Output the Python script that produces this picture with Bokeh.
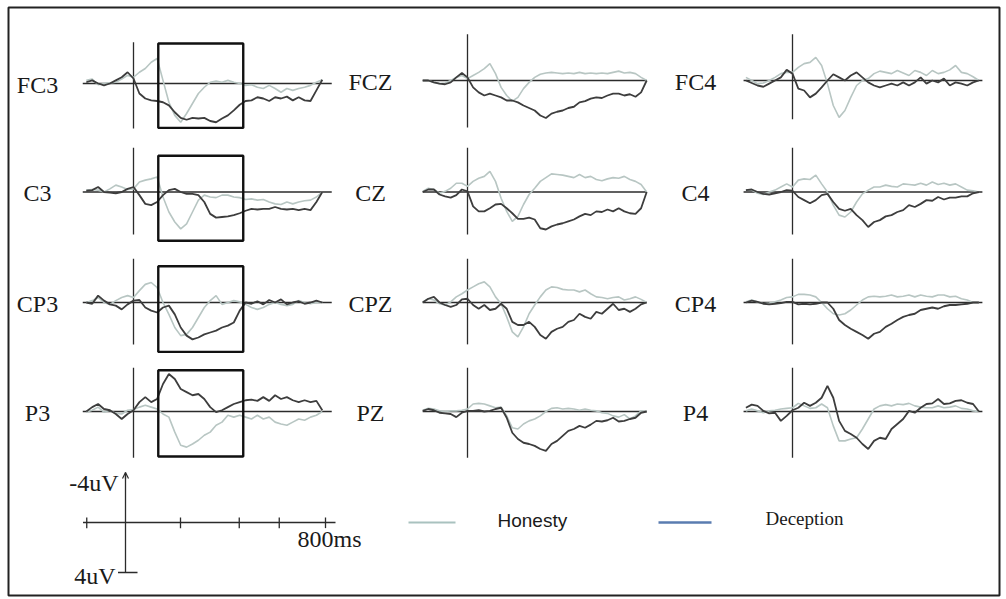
from bokeh.plotting import figure
from bokeh.models import Range1d, Arrow, OpenHead
from bokeh.embed import file_html
from bokeh.resources import INLINE
from bokeh.core.properties import value

# ---------------- data (uV, negative plotted upward) ----------------
times = list(range(-200, 801, 25))  # ms

labels = [["FC3", "FCZ", "FC4"],
          ["C3", "CZ", "C4"],
          ["CP3", "CPZ", "CP4"],
          ["P3", "PZ", "P4"]]

FC3_dec = [-0.1, -0.25, 0.0, 0.15, 0.0, -0.25, -0.5, -0.9,
           -0.4, 0.8, 1.2, 1.35, 1.4, 1.5, 1.75, 2.3, 2.75, 2.9, 2.75, 2.8, 2.75, 3.0, 3.1, 2.8, 2.55,
           2.15, 1.7, 1.4, 1.35, 1.1, 1.2, 1.4, 1.1, 1.2, 1.05, 1.35, 1.1, 1.35, 1.4, 0.55, -0.3]
FC3_hon = [-0.25, -0.35, 0.1, 0.0, -0.05, -0.1, -0.35, -0.65,
           -0.5, -0.9, -1.2, -1.7, -2.0, -0.25, 1.5, 2.55, 3.1, 2.4, 1.6, 0.8, 0.3, -0.1, -0.2, -0.1, -0.25,
           -0.1, 0.0, 0.15, 0.1, 0.3, 0.4, 0.15, 0.4, 0.7, 0.4, 0.55, 0.4, 0.3, 0.15, -0.1, -0.3]
FCZ_dec = [0, 0, 0.15, 0.25, 0.3, 0.15, -0.25, -0.6,
           -0.25, 0.55, 0.95, 1.2, 1.05, 1.2, 1.35, 1.6, 1.6, 1.75, 2.0, 2.2, 2.4, 2.8, 3.0, 2.65, 2.5,
           2.4, 2.2, 2.1, 1.75, 1.65, 1.45, 1.35, 1.4, 1.2, 1.05, 1.05, 1.2, 1.1, 1.3, 0.95, 0]
FCZ_hon = [0, 0, 0.15, 0.25, 0.2, 0, -0.25, -0.4,
           -0.15, -0.4, -0.65, -0.95, -1.35, -0.55, 0.55, 1.2, 1.65, 1.35, 0.65, 0.15, -0.25, -0.5, -0.6, -0.65, -0.6,
           -0.55, -0.6, -0.55, -0.65, -0.55, -0.6, -0.55, -0.6, -0.55, -0.65, -0.75, -0.6, -0.65, -0.55, -0.25, 0]
FC4_dec = [0, 0.2, 0.4, 0.5, 0.25, 0, -0.25, -0.85,
           -0.55, 0.65, 0.8, 1.35, 1.05, 0.55, 0, -0.5, -0.25, 0, -0.4, -0.65, -0.25, 0.15, 0.4, 0.55, 0.4,
           0.25, 0.4, 0.15, 0.4, 0.15, -0.25, 0.25, 0, 0.15, -0.15, 0.4, 0.15, 0.25, 0.4, 0.15, 0]
FC4_hon = [-0.25, 0, 0.25, 0.2, 0, -0.25, -0.55, -0.65,
           -0.65, -1.05, -1.35, -1.45, -1.85, -1.2, 0.25, 2.0, 2.95, 2.4, 1.35, 0.4, 0, -0.15, -0.55, -0.75, -0.65,
           -0.55, -0.8, -0.6, -0.4, -0.8, -0.65, -0.4, -0.8, -0.55, -0.65, -0.85, -1.2, -0.65, -0.55, -0.3, 0]

C3_dec = [-0.1, -0.15, -0.4, 0, 0.05, 0.1, 0, -0.25,
          -0.4, 0.25, 0.95, 1.05, 0.8, 0.25, -0.15, -0.25, 0, 0.15, 0.15, 0.25, 0.8, 1.75, 2.05, 2.0, 1.95,
          1.85, 1.7, 1.5, 1.35, 1.4, 1.35, 1.35, 1.2, 1.35, 1.4, 1.35, 1.45, 1.35, 1.45, 0.8, 0]
C3_hon = [-0.15, -0.2, -0.15, 0, -0.25, -0.55, -0.4, -0.2,
          -0.25, -0.8, -0.95, -1.05, -1.2, 0.4, 1.6, 2.4, 2.95, 2.55, 1.6, 0.65, 0.25, 0.4, 0.45, 0.25, 0.25,
          0.4, 0.45, 0.6, 0.55, 0.65, 0.6, 0.8, 0.95, 1.0, 0.8, 0.95, 0.8, 0.7, 0.65, 0.4, 0]
CZ_dec = [0, -0.2, -0.2, 0.2, 0.35, 0.45, 0.25, -0.2,
          -0.05, 1.15, 1.55, 1.55, 1.3, 1.0, 0.95, 1.3, 1.7, 2.15, 2.15, 2.05, 2.2, 2.9, 3.0, 2.75, 2.6,
          2.5, 2.35, 2.2, 1.95, 1.75, 1.85, 1.55, 1.6, 1.4, 1.55, 1.3, 1.55, 1.7, 1.75, 1.3, 0]
CZ_hon = [-0.05, -0.3, -0.2, 0.1, -0.05, -0.3, -0.7, -0.7,
          -0.45, -0.85, -1.1, -1.25, -1.65, -0.85, 0.5, 1.55, 2.35, 1.95, 1.0, 0.2, -0.3, -0.85, -1.15, -1.45, -1.4,
          -1.35, -1.25, -1.15, -1.4, -1.15, -1.25, -1.0, -0.9, -1.05, -1.15, -1.1, -1.25, -1.0, -0.85, -0.6, 0]
C4_dec = [-0.15, -0.2, 0, 0.15, 0.2, 0.1, 0, -0.15,
          -0.1, 0.4, 0.65, 0.9, 0.65, 0.25, 0.15, 0.8, 1.35, 1.5, 1.35, 1.85, 2.25, 2.8, 2.4, 2.25, 1.95,
          1.85, 1.6, 1.45, 1.05, 1.2, 0.95, 0.65, 0.7, 0.4, 0.6, 0.45, 0.45, 0.35, 0.35, 0.1, 0]
C4_hon = [-0.15, -0.15, 0.1, 0.2, 0, -0.15, -0.4, -0.65,
          -0.4, -0.95, -1.05, -1.0, -1.35, -0.65, 0, 1.05, 1.85, 2.0, 1.6, 0.8, 0.15, -0.15, -0.4, -0.4, -0.55,
          -0.45, -0.4, -0.65, -0.6, -0.55, -0.7, -0.55, -0.8, -0.6, -0.7, -0.55, -0.65, -0.4, -0.15, -0.1, 0]

CP3_dec = [0, 0.1, -0.55, -0.15, 0.15, 0.25, 0.55, 0.15,
           -0.15, -0.2, 0.4, 0.65, 0.8, 0.4, 0.25, 0.95, 2.0, 2.65, 2.95, 2.8, 2.55, 2.4, 2.25, 2.0, 1.85,
           1.6, 0.65, 0, 0.1, -0.1, 0.15, -0.2, 0, -0.25, 0.15, 0, -0.1, 0.1, 0, -0.15, 0]
CP3_hon = [0, -0.15, -0.4, 0, 0.15, -0.15, -0.4, -0.55,
           -0.4, -0.95, -1.45, -1.6, -1.2, 0, 0.95, 2.0, 2.65, 2.55, 2.0, 1.2, 0.4, -0.15, -0.55, 0.15, 0,
           -0.15, -0.05, 0.15, 0.4, 0.55, 0.4, 0.15, 0, 0.15, 0.25, 0.15, -0.15, 0, 0.1, 0, 0]
CPZ_dec = [0, -0.3, -0.45, 0, 0.2, 0.35, 0.2, -0.25,
           -0.3, 0.2, 0.5, 0.2, 0.6, 0.5, 0.1, 0.5, 1.55, 1.8, 1.8, 1.55, 1.95, 2.6, 2.9, 2.35, 2.1,
           1.95, 1.55, 1.4, 0.9, 1.15, 1.3, 0.75, 0.9, 0.5, 0.1, 0.6, 0.5, 0.75, 0.5, 0.15, 0]
CPZ_hon = [-0.05, -0.3, -0.2, 0.1, 0.2, -0.05, -0.45, -0.7,
           -1.0, -1.25, -1.5, -1.65, -1.25, -0.45, 0.1, 1.15, 2.35, 2.75, 1.95, 0.9, 0.2, -0.45, -1.0, -1.25, -1.2,
           -1.05, -1.0, -1.0, -0.85, -1.0, -0.7, -0.45, -0.4, -0.3, -0.4, -0.45, -0.2, -0.3, -0.45, -0.25, 0]
CP4_dec = [0, -0.15, -0.05, 0.1, 0.15, 0.1, 0.05, -0.05,
           -0.05, 0.15, 0.1, 0.15, 0.1, 0, 0, 0.5, 1.4, 1.8, 2.1, 2.35, 2.6, 2.9, 2.5, 2.35, 1.95,
           1.7, 1.4, 1.15, 1.0, 0.9, 0.6, 0.5, 0.4, 0.5, 0.3, 0.2, 0.2, 0.15, 0.1, 0, 0]
CP4_hon = [-0.05, -0.2, -0.05, 0.1, 0.05, -0.05, -0.2, -0.4,
           -0.45, -0.65, -0.65, -0.6, -0.45, 0, 0.5, 0.9, 1.0, 0.9, 0.6, 0.2, -0.2, -0.45, -0.5, -0.45, -0.5,
           -0.6, -0.45, -0.5, -0.6, -0.45, -0.6, -0.5, -0.45, -0.6, -0.6, -0.45, -0.5, -0.3, -0.2, 0, 0]

P3_dec = [0, -0.35, -0.6, -0.2, -0.1, 0.2, 0.6, 0.2,
          -0.1, -0.75, -1.15, -0.75, -1.0, -2.2, -3.0, -2.6, -1.8, -1.55, -1.3, -1.4, -1.0, -0.35, 0.05, -0.1, -0.35,
          -0.6, -0.75, -0.9, -0.95, -0.85, -1.15, -0.85, -1.3, -1.0, -1.15, -0.9, -0.75, -0.9, -0.75, -0.85, -0.1]
P3_hon = [0.05, -0.1, -0.35, 0.05, -0.1, 0.15, 0.2, -0.1,
          -0.15, -0.35, -0.5, -0.35, -0.2, 0.2, 0.45, 1.65, 2.7, 2.85, 2.6, 2.3, 1.9, 1.65, 1.1, 0.85, 0.3,
          0.45, 0.3, 0.45, 0.6, 0.3, 0.6, 0.45, 0.85, 1.0, 1.1, 0.85, 0.6, 0.7, 0.45, 0.3, 0]
PZ_dec = [-0.05, -0.2, -0.1, 0.1, 0.15, 0.2, 0.45, 0.1,
          -0.05, -0.05, -0.1, 0, -0.05, -0.2, -0.3, 0.5, 1.7, 2.2, 2.5, 2.6, 2.75, 3.0, 3.15, 2.6, 2.35,
          1.95, 1.55, 1.4, 1.15, 1.3, 1.05, 0.75, 0.8, 0.7, 0.5, 0.8, 0.75, 0.6, 0.5, 0.1, 0]
PZ_hon = [-0.1, -0.25, -0.2, -0.05, 0, -0.05, -0.05, -0.1,
          -0.2, -0.6, -0.65, -0.6, -0.45, -0.3, -0.35, 0.35, 1.3, 1.4, 1.0, 0.75, 0.6, 0.35, 0, -0.25, -0.3,
          -0.2, -0.25, -0.2, -0.1, -0.2, -0.1, -0.05, 0.1, 0.15, 0.35, 0.45, 0.25, 0.6, 0.35, -0.05, 0]
P4_dec = [-0.3, -0.55, -0.45, -0.05, 0.15, 0.1, 0.75, 0.35,
          -0.1, -0.3, -0.7, -0.45, -0.7, -1.1, -2.05, -1.1, 0.75, 1.55, 1.8, 2.1, 2.6, 3.0, 2.35, 2.1, 2.2,
          1.4, 1.0, 0.6, -0.05, 0.1, -0.3, -0.6, -0.65, -1.0, -0.6, -0.65, -0.85, -0.9, -0.7, -0.6, 0]
P4_hon = [-0.05, -0.2, -0.05, 0.1, -0.05, -0.1, -0.2, -0.25,
          -0.3, -0.65, -0.45, -0.25, -0.3, -0.6, -0.3, 1.15, 2.35, 2.35, 2.2, 2.1, 1.4, 0.6, -0.2, -0.45, -0.55,
          -0.45, -0.6, -0.55, -0.65, -0.45, -0.35, -0.3, -0.3, -0.45, -0.3, -0.35, -0.45, -0.25, -0.2, -0.05, 0]

deception = [[FC3_dec, FCZ_dec, FC4_dec], [C3_dec, CZ_dec, C4_dec],
             [CP3_dec, CPZ_dec, CP4_dec], [P3_dec, PZ_dec, P4_dec]]
honesty = [[FC3_hon, FCZ_hon, FC4_hon], [C3_hon, CZ_hon, C4_hon],
           [CP3_hon, CPZ_hon, CP4_hon], [P3_hon, PZ_hon, P4_hon]]

box_window_ms = [105, 465]          # analysis window, left column
scale_ticks_ms = [-155, 220, 455, 615, 800]
scale_uv = 4

# ---------------- layout / styles ----------------
W, H = 1006, 599
K = 12.5                                         # px per uV
col_map = [(133, 0.236), (467, 0.224), (792, 0.233)]  # (x of 0 ms, px per ms)
row_base = [[83, 80, 80], [191.5, 191.5, 191.5], [302, 302, 302], [411, 411, 411]]
vline_ext = [[(-3.3, 3.6), (-3.7, 3.75), (-3.7, 3.1)],
             [(-3.55, 3.4)] * 3, [(-3.5, 3.35)] * 3, [(-3.5, 3.7)] * 3]
box_ext = [(-3.2, 3.55), (-2.9, 3.9), (-2.9, 3.95), (-3.3, 3.6)]
base_ext = [(-215, 840), (-200, 800), (-210, 815)]
label_x = [37, 370, 695]

DARK = "#3d3d3d"
LIGHT = "#b8c6c3"
AXC = "#2b2b2b"
SERIF = value("Liberation Serif")

p = figure(width=W, height=H, x_range=Range1d(0, W), y_range=Range1d(H, 0),
           output_backend="svg", toolbar_location=None, min_border=0,
           x_axis_type=None, y_axis_type=None)
p.grid.visible = False
p.outline_line_color = None
p.background_fill_color = "white"
p.border_fill_color = "white"

for c, (x0, s) in enumerate(col_map):
    p.extra_x_ranges[f"x{c}"] = Range1d(-x0 / s, (W - x0) / s)

for r in range(4):
    for c in range(3):
        base = row_base[r][c]
        yn = f"y{r}{c}"
        xn = f"x{c}"
        p.extra_y_ranges[yn] = Range1d((H - base) / K, -base / K)
        # baseline and stimulus-onset line
        p.segment(x0=[base_ext[c][0]], y0=[0], x1=[base_ext[c][1]], y1=[0],
                  line_color=AXC, line_width=1.3, x_range_name=xn, y_range_name=yn)
        p.segment(x0=[0], y0=[vline_ext[r][c][0]], x1=[0], y1=[vline_ext[r][c][1]],
                  line_color=AXC, line_width=1.3, x_range_name=xn, y_range_name=yn)
        p.line(times, honesty[r][c], line_color=LIGHT, line_width=1.6,
               x_range_name=xn, y_range_name=yn)
        p.line(times, deception[r][c], line_color=DARK, line_width=1.8,
               x_range_name=xn, y_range_name=yn)
        if c == 0:
            p.quad(left=[box_window_ms[0]], right=[box_window_ms[1]],
                   top=[box_ext[r][0]], bottom=[box_ext[r][1]],
                   fill_color=None, line_color="#111111", line_width=2.4,
                   x_range_name=xn, y_range_name=yn)
        p.text(x=[label_x[c]], y=[base + 1], text=[labels[r][c]], text_font=SERIF,
               text_font_size="24px", text_align="center", text_baseline="middle",
               text_color="#1a1a1a")

# ---------------- scale bar ----------------
p.extra_x_ranges["xs"] = Range1d(-125 / 0.25, (W - 125) / 0.25)
p.extra_y_ranges["ys"] = Range1d((H - 522) / K, -522 / K)
p.segment(x0=[-170], y0=[0], x1=[840], y1=[0], line_color=AXC, line_width=1.3,
          x_range_name="xs", y_range_name="ys")
p.segment(x0=[0], y0=[-scale_uv], x1=[0], y1=[scale_uv], line_color=AXC, line_width=1.3,
          x_range_name="xs", y_range_name="ys")
p.segment(x0=scale_ticks_ms, y0=[-0.4] * len(scale_ticks_ms), x1=scale_ticks_ms,
          y1=[0.45] * len(scale_ticks_ms), line_color=AXC, line_width=1.3,
          x_range_name="xs", y_range_name="ys")
p.segment(x0=[-30], y0=[scale_uv], x1=[48], y1=[scale_uv], line_color=AXC, line_width=1.3,
          x_range_name="xs", y_range_name="ys")
p.add_layout(Arrow(end=OpenHead(size=6, line_width=1.2, line_color=AXC),
                   x_start=0, y_start=-scale_uv + 0.5, x_end=0, y_end=-scale_uv,
                   line_color=AXC, line_width=1.2, x_range_name="xs", y_range_name="ys"))
p.text(x=[118], y=[482], text=["-4uV"], text_font=SERIF, text_font_size="24px",
       text_align="right", text_baseline="middle", text_color="#1a1a1a")
p.text(x=[115], y=[575], text=["4uV"], text_font=SERIF, text_font_size="24px",
       text_align="right", text_baseline="middle", text_color="#1a1a1a")
p.text(x=[297], y=[538], text=["800ms"], text_font=SERIF, text_font_size="24px",
       text_align="left", text_baseline="middle", text_color="#1a1a1a")

# ---------------- legend ----------------
p.segment(x0=[408], y0=[522], x1=[455], y1=[522], line_color="#a9c2bf", line_width=2)
p.text(x=[497], y=[520], text=["Honesty"], text_font=value("Liberation Sans"),
       text_font_size="19px", text_align="left", text_baseline="middle", text_color="#1a1a1a")
p.segment(x0=[658], y0=[522], x1=[711], y1=[522], line_color="#5a7cb0", line_width=2.5)
p.text(x=[765], y=[518], text=["Deception"], text_font=SERIF,
       text_font_size="19px", text_align="left", text_baseline="middle", text_color="#1a1a1a")

# ---------------- outer frame ----------------
p.quad(left=[8], right=[999], top=[7], bottom=[595], fill_color=None,
       line_color="#222222", line_width=2)

open("out.html", "w").write(file_html(p, INLINE))
